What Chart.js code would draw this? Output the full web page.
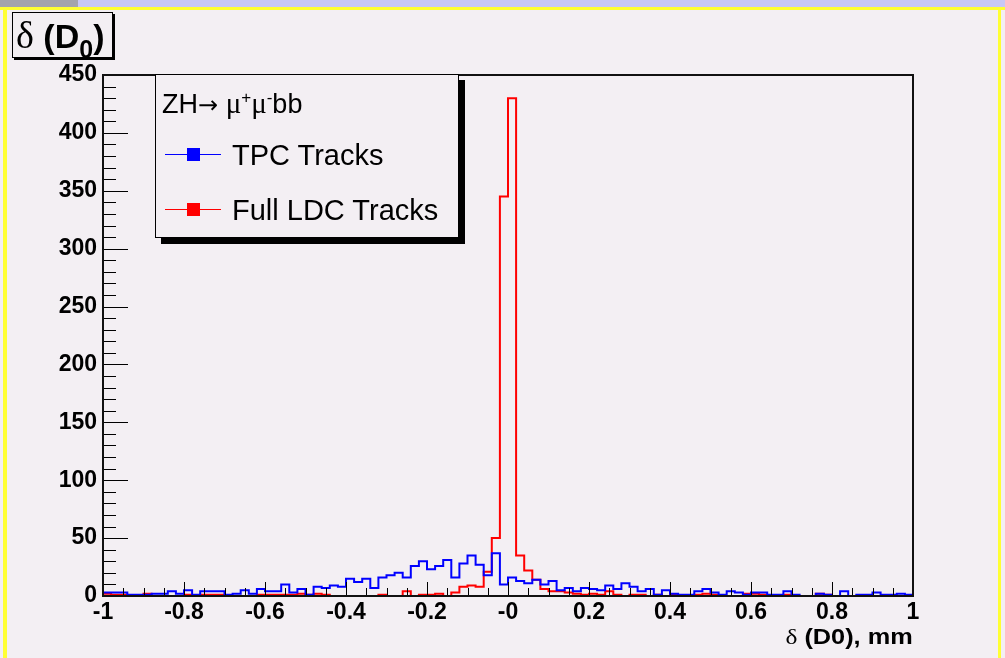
<!DOCTYPE html>
<html>
<head>
<meta charset="utf-8">
<script src="https://cdn.jsdelivr.net/npm/chart.js@4.4.0/dist/chart.umd.min.js"></script>
<style>
body { margin:0; width:1005px; height:658px; background:#f3eff3; position:relative; overflow:hidden; font-family:"Liberation Sans", Arial, sans-serif; color:#000; }
#stripGray { position:absolute; left:0; top:0; width:78px; height:7px; background:#a4a4ac; }
#stripBlue { position:absolute; left:78px; top:0; width:927px; height:7px; background:#c8c8f6; }
#yellowTop { position:absolute; left:0; top:7px; width:1005px; height:3px; background:#ffff33; }
#yellowLeft { position:absolute; left:3px; top:7px; width:4px; height:651px; background:#ffff33; }
#yellowRight { position:absolute; left:998px; top:7px; width:3px; height:651px; background:#ffff33; }
#d0Chart { position:absolute; left:0; top:0; }
.serif { font-family:"Liberation Serif", "DejaVu Serif", serif; font-weight:normal; }
#titleBox { position:absolute; left:12px; top:12px; width:101px; height:46px; border:1px solid #000; box-shadow:2px 2px 0 #000; background:#f3eff3; white-space:nowrap; font-size:34px; line-height:45px; padding-left:3px; box-sizing:border-box; }
#titleBox .serif { font-size:38px; }
#titleBox b sub { font-size:25px; vertical-align:-10px; line-height:0; }
#legendBox { position:absolute; left:155px; top:74px; width:304px; height:164px; border:1px solid #000; box-shadow:6px 6px 0 #000; background:#f3eff3; box-sizing:border-box; }
.lgHeader { position:absolute; left:6px; top:8px; height:40px; line-height:40px; font-size:27px; white-space:nowrap; }
.lgHeader .arrow { font-family:"DejaVu Sans", sans-serif; font-size:24px; }
.lgHeader .serif { font-size:29px; }
.lgHeader sup { font-size:17px; vertical-align:10px; line-height:0; }
.lgRow { position:absolute; left:0; height:40px; width:300px; }
.lgLine { position:absolute; left:9px; top:19px; width:56px; height:1px; }
.lgMark { position:absolute; left:31px; top:13px; width:13px; height:13px; }
.lgText { position:absolute; left:76px; top:0; line-height:40px; font-size:29px; white-space:nowrap; }
#xTitle { position:absolute; right:92px; top:624px; font-size:22px; line-height:26px; white-space:nowrap; transform:scaleX(1.15); transform-origin:right center; }
</style>
</head>
<body>
<div id="stripGray"></div>
<div id="stripBlue"></div>
<div id="yellowTop"></div>
<div id="yellowLeft"></div>
<div id="yellowRight"></div>
<canvas id="d0Chart" width="1005" height="658"></canvas>
<div id="titleBox"><span class="serif">δ</span> <b>(D<sub>0</sub>)</b></div>
<div id="legendBox"></div>
<div id="xTitle"><span class="serif">δ</span> <b>(D0), mm</b></div>
<script>
// histogram: 100 bins from -1 to 1 mm
const binLow = -1;
const binWidth = 0.02;

const tpcCounts = [
  3, 3, 3, 1, 1, 1, 2, 2, 4, 2,
  5, 1, 4, 4, 4, 1, 2, 5, 2, 6,
  4, 4, 10, 3, 6, 1, 8, 7, 9, 8,
  15, 12, 15, 7, 16, 18, 20, 16, 26, 30,
  23, 26, 31, 16, 28, 35, 27, 18, 37, 10,
  16, 13, 11, 14, 10, 13, 5, 7, 4, 7,
  6, 5, 9, 6, 11, 8, 4, 6, 1, 5,
  2, 1, 1, 4, 6, 3, 1, 4, 3, 1,
  3, 3, 1, 1, 4, 1, 0, 0, 2, 1,
  0, 4, 0, 1, 1, 3, 1, 1, 2, 1
];

const ldcCounts = [
  2, 1, 1, 0, 0, 2, 0, 0, 0, 0,
  1, 0, 1, 1, 1, 0, 0, 0, 0, 1,
  1, 1, 1, 1, 2, 1, 2, 1, 0, 0,
  0, 0, 0, 0, 1, 0, 0, 4, 0, 1,
  1, 2, 0, 3, 8, 9, 8, 21, 50, 345,
  430, 35, 22, 14, 6, 4, 4, 3, 2, 1,
  2, 1, 4, 1, 0, 1, 1, 0, 1, 0,
  1, 0, 0, 1, 2, 1, 0, 0, 0, 2,
  2, 1, 0, 0, 1, 0, 0, 0, 2, 1,
  0, 0, 0, 0, 0, 0, 0, 0, 0, 0
];

const seriesNames = ["TPC Tracks", "Full LDC Tracks"];
const xTickLabels = ["-1", "-0.8", "-0.6", "-0.4", "-0.2", "-0", "0.2", "0.4", "0.6", "0.8", "1"];
const yTickLabels = ["0", "50", "100", "150", "200", "250", "300", "350", "400", "450"];

// points at bin low edges + closing point at the upper edge
function toHist(counts) {
  let pts = counts.map((c, i) => ({ x: binLow + i * binWidth, y: c }));
  pts.push({ x: binLow + counts.length * binWidth, y: counts[counts.length - 1] });
  return pts;
}

const tickFont = { family: 'Liberation Sans', weight: 'bold', size: 23 };

// ROOT style frame with ticks pointing into the pad
const rootFrame = {
  id: 'rootFrame',
  afterDraw(chart) {
    const { ctx, chartArea: a, scales: { x, y } } = chart;
    ctx.save();
    ctx.strokeStyle = '#000';
    ctx.lineWidth = 1;
    for (let v = 0; v <= 450; v += 10) {
      const py = Math.round(y.getPixelForValue(v)) + 0.5;
      const len = v % 50 === 0 ? 25 : 13;
      ctx.beginPath();
      ctx.moveTo(a.left, py);
      ctx.lineTo(a.left + len, py);
      ctx.stroke();
    }
    for (let i = 0; i <= 40; i++) {
      const px = Math.round(x.getPixelForValue(-1 + i * 0.05)) + 0.5;
      const len = i % 4 === 0 ? 14 : 8;
      ctx.beginPath();
      ctx.moveTo(px, a.bottom);
      ctx.lineTo(px, a.bottom - len);
      ctx.stroke();
    }
    ctx.lineWidth = 2;
    ctx.strokeStyle = '#111';
    ctx.strokeRect(a.left, a.top, a.width, a.height);
    ctx.restore();
  }
};

let ctx = document.getElementById('d0Chart').getContext('2d');
let myChart = new Chart(ctx, {
  type: 'line',
  data: {
    datasets: [{
      label: seriesNames[0],
      data: toHist(tpcCounts),
      borderColor: '#0000ff',
      backgroundColor: '#0000ff',
      borderWidth: 2,
      stepped: 'before',
      pointRadius: 0,
      fill: false,
      order: 0
    }, {
      label: seriesNames[1],
      data: toHist(ldcCounts),
      borderColor: '#ff0000',
      backgroundColor: '#ff0000',
      borderWidth: 2,
      stepped: 'before',
      pointRadius: 0,
      fill: false,
      order: 1
    }]
  },
  options: {
    responsive: false,
    animation: false,
    devicePixelRatio: 1,
    layout: { padding: { top: 75, right: 92, left: 0, bottom: 0 } },
    plugins: {
      legend: { display: false },
      tooltip: { enabled: false }
    },
    scales: {
      x: {
        type: 'linear',
        min: -1,
        max: 1,
        grid: { display: false, drawTicks: false },
        border: { display: false },
        ticks: {
          stepSize: 0.2,
          autoSkip: false,
          maxRotation: 0,
          padding: 3,
          color: '#000',
          font: tickFont,
          callback: (v) => xTickLabels[Math.round((v + 1) / 0.2)]
        },
        afterFit: (s) => { s.height = 62; }
      },
      y: {
        min: 0,
        max: 450,
        grid: { display: false, drawTicks: false },
        border: { display: false },
        ticks: {
          stepSize: 50,
          padding: 6,
          color: '#000',
          font: tickFont,
          callback: (v) => yTickLabels[Math.round(v / 50)]
        },
        afterFit: (s) => { s.width = 103; }
      }
    }
  },
  plugins: [rootFrame]
});

// legend box built from the datasets
const legendBox = document.getElementById('legendBox');
let header = document.createElement('div');
header.className = 'lgHeader';
header.innerHTML = 'ZH<span class="arrow">→</span> <span class="serif">μ</span><sup>+</sup><span class="serif">μ</span><sup>-</sup>bb';
legendBox.appendChild(header);
myChart.data.datasets.forEach((ds, i) => {
  let row = document.createElement('div');
  row.className = 'lgRow';
  row.style.top = (60 + i * 55) + 'px';
  row.innerHTML = '<div class="lgLine" style="background:' + ds.borderColor + '"></div>' +
    '<div class="lgMark" style="background:' + ds.borderColor + '"></div>' +
    '<div class="lgText">' + ds.label + '</div>';
  legendBox.appendChild(row);
});
</script>
</body>
</html>
